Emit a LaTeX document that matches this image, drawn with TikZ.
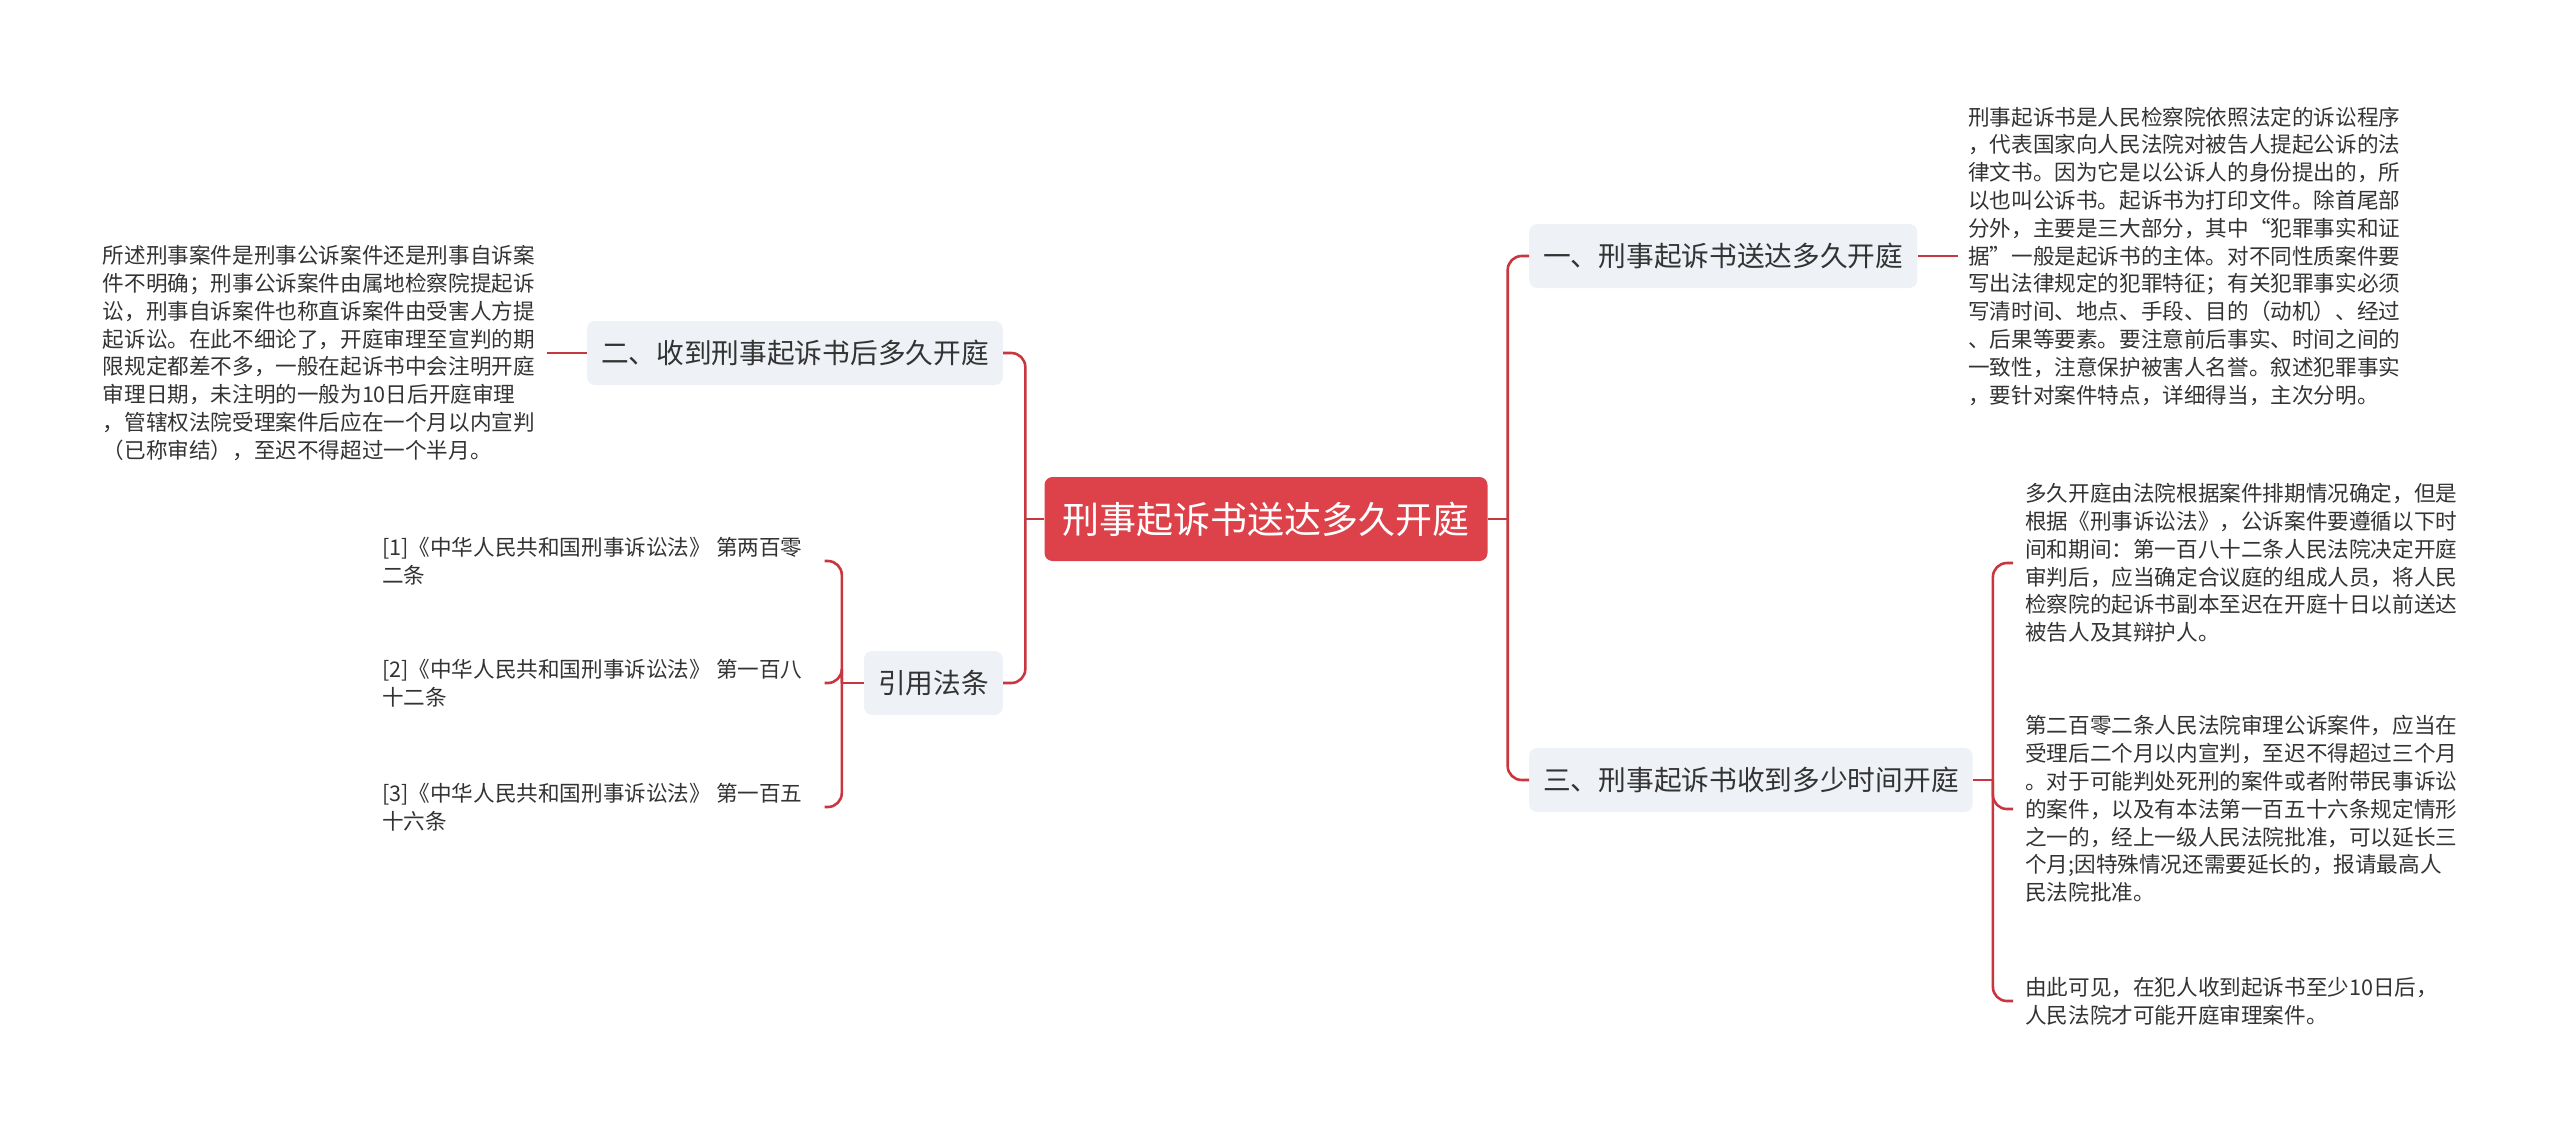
\documentclass[tikz,border=0pt]{standalone}
\usepackage{fontspec}
\setmainfont{Noto Sans CJK SC}
\definecolor{rootred}{HTML}{DD4149}
\definecolor{linkred}{HTML}{C8363F}
\definecolor{topicgray}{HTML}{EEF1F5}
\definecolor{textdark}{HTML}{333333}
\begin{document}
\begin{tikzpicture}[x=1pt, y=-1pt,
    link/.style={draw=linkred, line width=2.6pt},
    topic/.style={fill=topicgray, rounded corners=8pt, text=textdark, minimum height=64pt, inner xsep=14pt, font=\fontsize{27.7}{32}\selectfont},
    leaf/.style={text=textdark, align=left, inner xsep=12pt, inner ysep=0pt, font=\fontsize{21.6}{27.8}\selectfont}]
    \useasboundingbox (0,0) rectangle (2560,1133);

    % 中心主题
    \node[fill=rootred, rounded corners=8pt, text=white, minimum height=84pt, inner xsep=18pt,
        font=\fontsize{37}{40}\selectfont] (root) at (1266,519) {刑事起诉书送达多久开庭};

    % 分支
    \node[topic, anchor=west] (b1) at (1529,256) {一、刑事起诉书送达多久开庭};
    \node[topic, anchor=west] (b3) at (1529,780) {三、刑事起诉书收到多少时间开庭};
    \node[topic, anchor=east] (b2) at (1003,353) {二、收到刑事起诉书后多久开庭};
    \node[topic, anchor=east] (b4) at (1003,683) {引用法条};

    % 右侧内容
    \node[leaf, anchor=west, inner xsep=10pt] (l1) at (1958,256) {刑事起诉书是人民检察院依照法定的诉讼程序\\
        ，代表国家向人民法院对被告人提起公诉的法\\
        律文书。因为它是以公诉人的身份提出的，所\\
        以也叫公诉书。起诉书为打印文件。除首尾部\\
        分外，主要是三大部分，其中“犯罪事实和证\\
        据”一般是起诉书的主体。对不同性质案件要\\
        写出法律规定的犯罪特征；有关犯罪事实必须\\
        写清时间、地点、手段、目的（动机）、经过\\
        、后果等要素。要注意前后事实、时间之间的\\
        一致性，注意保护被害人名誉。叙述犯罪事实\\
        ，要针对案件特点，详细得当，主次分明。};
    \node[leaf, anchor=west] (r1) at (2013,563) {多久开庭由法院根据案件排期情况确定，但是\\
        根据《刑事诉讼法》，公诉案件要遵循以下时\\
        间和期间：第一百八十二条人民法院决定开庭\\
        审判后，应当确定合议庭的组成人员，将人民\\
        检察院的起诉书副本至迟在开庭十日以前送达\\
        被告人及其辩护人。};
    \node[leaf, anchor=west] (r2) at (2013,809) {第二百零二条人民法院审理公诉案件，应当在\\
        受理后二个月以内宣判，至迟不得超过三个月\\
        。对于可能判处死刑的案件或者附带民事诉讼\\
        的案件，以及有本法第一百五十六条规定情形\\
        之一的，经上一级人民法院批准，可以延长三\\
        个月;因特殊情况还需要延长的，报请最高人\\
        民法院批准。};
    \node[leaf, anchor=west] (r3) at (2013,1001) {由此可见，在犯人收到起诉书至少10日后，\\
        人民法院才可能开庭审理案件。};

    % 左侧内容
    \node[leaf, anchor=east] (l2) at (547,353) {所述刑事案件是刑事公诉案件还是刑事自诉案\\
        件不明确；刑事公诉案件由属地检察院提起诉\\
        讼，刑事自诉案件也称直诉案件由受害人方提\\
        起诉讼。在此不细论了，开庭审理至宣判的期\\
        限规定都差不多，一般在起诉书中会注明开庭\\
        审理日期，未注明的一般为10日后开庭审理\\
        ，管辖权法院受理案件后应在一个月以内宣判\\
        （已称审结），至迟不得超过一个半月。};
    \node[leaf, anchor=west, inner xsep=22pt] (c1) at (360,561) {[1]《中华人民共和国刑事诉讼法》 第两百零\\二条};
    \node[leaf, anchor=west, inner xsep=22pt] (c2) at (360,683) {[2]《中华人民共和国刑事诉讼法》 第一百八\\十二条};
    \node[leaf, anchor=west, inner xsep=22pt] (c3) at (360,807) {[3]《中华人民共和国刑事诉讼法》 第一百五\\十六条};

    % 连线
    \coordinate (tL) at ([xshift=-19pt]root.west);
    \coordinate (tR) at ([xshift=20pt]root.east);
    \coordinate (j3) at ([xshift=20pt]b3.east);
    \coordinate (j4) at ([xshift=-22pt]b4.west);
    \draw[link] (root.west) -- (tL);
    \draw[link] (root.east) -- (tR);
    \draw[link, rounded corners=14pt] (tL) |- (b2.east);
    \draw[link, rounded corners=14pt] (tL) |- (b4.east);
    \draw[link, rounded corners=14pt] (tR) |- (b1.west);
    \draw[link, rounded corners=14pt] (tR) |- (b3.west);
    \draw[link] (b1.east) -- (l1.west);
    \draw[link] (b2.west) -- (l2.east);
    \draw[link] (b3.east) -- (j3);
    \draw[link] (b4.west) -- (j4);
    \foreach \r in {r1,r2,r3}
        \draw[link, rounded corners=14pt] (j3) |- (\r.west);
    \foreach \c in {c1,c2,c3}
        \draw[link, rounded corners=14pt] (j4) |- (\c.east);
\end{tikzpicture}
\end{document}
